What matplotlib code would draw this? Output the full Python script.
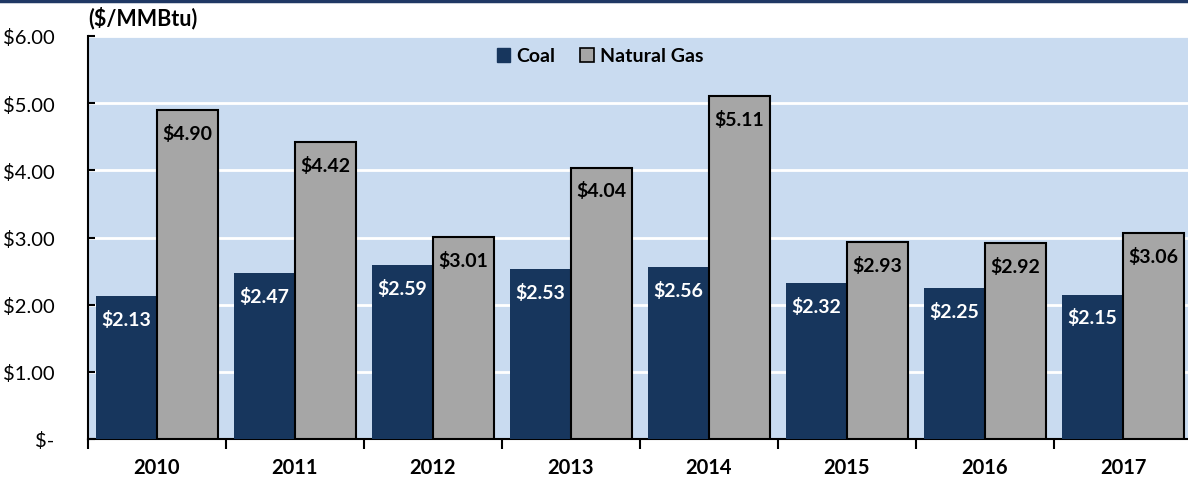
import matplotlib
matplotlib.use("Agg")
import matplotlib.pyplot as plt
from matplotlib.lines import Line2D
from matplotlib.patches import Patch
import numpy as np

# --- Data ---
years = ["2010", "2011", "2012", "2013", "2014", "2015", "2016", "2017"]
coal = [2.13, 2.47, 2.59, 2.53, 2.56, 2.32, 2.25, 2.15]
gas = [4.90, 4.42, 3.01, 4.04, 5.11, 2.93, 2.92, 3.06]
yticks = [0, 1, 2, 3, 4, 5, 6]
ytick_labels = ["$-", "$1.00", "$2.00", "$3.00", "$4.00", "$5.00", "$6.00"]

COAL_COLOR = "#17365D"
GAS_COLOR = "#A6A6A6"
BG_COLOR = "#C9DBF0"

plt.rcParams['font.family'] = ['Lato', 'DejaVu Sans']

fig = plt.figure(figsize=(11.88, 4.81), dpi=100)
ax = fig.add_axes([88 / 1188, 41 / 481, 1104 / 1188, 403 / 481])
ax.set_facecolor(BG_COLOR)

x = np.arange(len(years))
w = 0.442
ax.bar(x - w / 2, coal, width=w, color=COAL_COLOR, zorder=3)
ax.bar(x + w / 2, gas, width=w, color=GAS_COLOR, edgecolor="black", linewidth=1.5, zorder=3)

# value labels inside bars
for xi, v in zip(x, coal):
    ax.text(xi - w / 2, v - 0.34, f"${v:.2f}", ha="center", va="center",
            color="white", fontsize=14, fontweight="bold", zorder=4)
for xi, v in zip(x, gas):
    ax.text(xi + w / 2, v - 0.34, f"${v:.2f}", ha="center", va="center",
            color="black", fontsize=14, fontweight="bold", zorder=4)

ax.set_ylim(0, 6)
ax.set_xlim(-0.5, 7.5)
ax.set_yticks(yticks)
ax.set_yticklabels(ytick_labels, fontsize=14.5)
ax.tick_params(axis="y", direction="in", length=5, width=1.5, pad=24)
ax.yaxis.grid(True, color="white", linewidth=2, zorder=1)
ax.set_axisbelow(True)

# category boundaries as ticks, labels at centers
ax.set_xticks(np.arange(-0.5, 8.0, 1.0))
ax.set_xticklabels([])
ax.set_xticks(x, minor=True)
ax.set_xticklabels(years, minor=True, fontsize=14.5, fontweight="bold")
ax.tick_params(axis="x", which="major", direction="out", length=7, width=1.5)
ax.tick_params(axis="x", which="minor", length=0, pad=13)

for s in ["top", "right"]:
    ax.spines[s].set_visible(False)
for s in ["left", "bottom"]:
    ax.spines[s].set_linewidth(1.5)
    ax.spines[s].set_color("black")

fig.text(88 / 1188, 1 - 18 / 481, "($/MMBtu)", fontsize=15.5, fontweight="bold",
         ha="left", va="center")

handles = [Patch(facecolor=COAL_COLOR, edgecolor=COAL_COLOR),
           Patch(facecolor=GAS_COLOR, edgecolor="black", linewidth=1.2)]
leg = fig.legend(handles, ["Coal", "Natural Gas"], loc="center",
                 bbox_to_anchor=(600 / 1188, 1 - 57 / 481), ncol=2, frameon=False,
                 prop={"weight": "bold", "size": 14}, handlelength=0.7,
                 handleheight=0.7, handletextpad=0.3, columnspacing=1.3)

# top border line
fig.add_artist(Line2D([0, 1], [1 - 1.5 / 481, 1 - 1.5 / 481], color="#1F3864",
                      linewidth=2.5, transform=fig.transFigure))

fig.savefig("out.png", dpi=100)
